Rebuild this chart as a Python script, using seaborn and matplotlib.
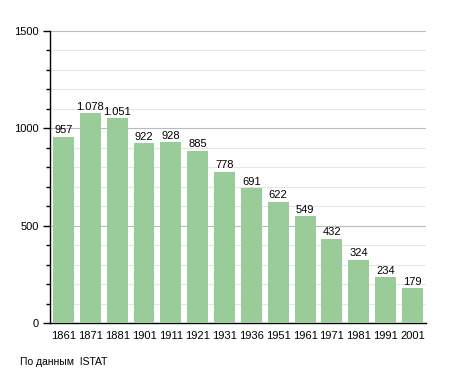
import matplotlib.pyplot as plt
import seaborn as sns
import pandas as pd
from matplotlib.ticker import MultipleLocator

years = ['1861', '1871', '1881', '1901', '1911', '1921', '1931', '1936',
         '1951', '1961', '1971', '1981', '1991', '2001']
population = [957, 1078, 1051, 922, 928, 885, 778, 691, 622, 549, 432, 324, 234, 179]

df = pd.DataFrame({'year': years, 'pop': population})

sns.set_style('white')
plt.rcParams['font.family'] = ['Liberation Sans', 'DejaVu Sans']
plt.rcParams['text.color'] = 'black'
plt.rcParams['xtick.color'] = 'black'
plt.rcParams['ytick.color'] = 'black'

fig = plt.figure(figsize=(4.55, 3.73), dpi=100)
ax = fig.add_axes([0.11, 0.134, 0.826, 0.783])

sns.barplot(data=df, x='year', y='pop', color='#99cc99', saturation=1,
            width=0.78, linewidth=0, ax=ax, zorder=3)

ax.set_ylim(0, 1500)
ax.set_xlim(-0.5, len(years) - 0.5)
ax.yaxis.set_major_locator(MultipleLocator(500))
ax.yaxis.set_minor_locator(MultipleLocator(100))
ax.grid(which='major', axis='y', color='#bbbbbb', linewidth=0.8, zorder=0)
ax.grid(which='minor', axis='y', color='#e6e6e6', linewidth=0.8, zorder=0)
ax.set_axisbelow(True)

for s in ['top', 'right']:
    ax.spines[s].set_visible(False)
for s in ['left', 'bottom']:
    ax.spines[s].set_color('black')
    ax.spines[s].set_linewidth(1)

ax.tick_params(axis='y', which='major', left=True, length=5, width=1, labelsize=8, pad=3)
ax.tick_params(axis='y', which='minor', left=True, length=3, width=1)
ax.tick_params(axis='x', bottom=False, labelsize=8, pad=2)
ax.set_xlabel('')
ax.set_ylabel('')

for i, v in enumerate(population):
    lbl = f'{v:,}'.replace(',', '.')
    ax.text(i, v + 8, lbl, ha='center', va='bottom', fontsize=8, zorder=4)

fig.text(20 / 455, 1 - 362 / 373, 'По данным  ISTAT', fontsize=7.5, va='center')

fig.savefig('out.png', dpi=100)
